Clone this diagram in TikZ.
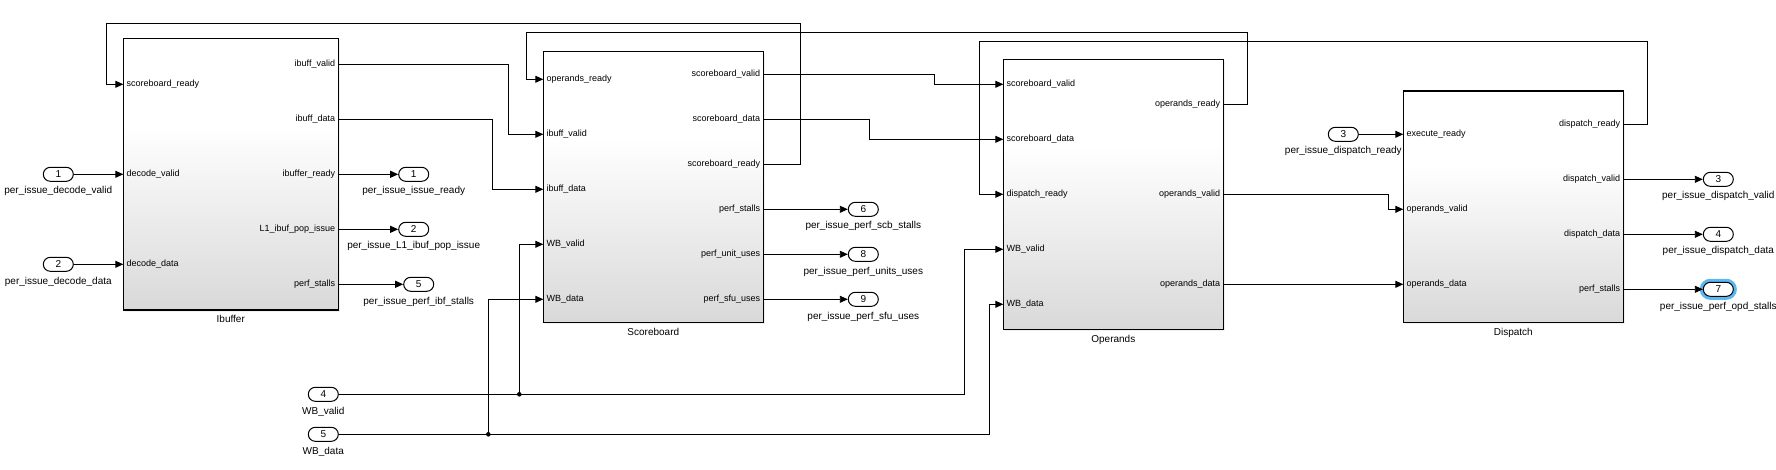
\documentclass[tikz,border=0pt]{standalone}
\usepackage{fontspec}
\setmainfont{Liberation Sans}
\usepackage{tikz}
\usetikzlibrary{positioning}
\usetikzlibrary{arrows.meta}
\usetikzlibrary{shadows}
\tikzset{>={Triangle[length=8pt,width=7pt]}}
\definecolor{selblue}{RGB}{92,182,242}
\pgfdeclareverticalshading{blockfill}{100bp}{color(0bp)=(black!15); color(25bp)=(black!15); color(59bp)=(white); color(100bp)=(white)}

\begin{document}
\begin{tikzpicture}[x=1pt,y=-1pt,
  block/.style={draw,line width=1.3pt,shade,shading=blockfill,anchor=north west,outer sep=0pt,
    drop shadow={shadow xshift=2pt,shadow yshift=-2pt,opacity=0.12}},
  pin/.style={anchor=west,inner xsep=3pt,inner ysep=0pt,font=\fontsize{9}{10}\selectfont,text height=6.5pt,text depth=2pt},
  pout/.style={pin,anchor=east},
  io/.style={draw,fill=white,line width=1pt,rounded corners=7pt,minimum width=30pt,minimum height=14pt,inner sep=0pt,font=\fontsize{10}{11}\selectfont},
  sel/.style={io,preaction={draw,selblue,line width=7pt}},
  tag/.style={inner sep=0pt,font=\fontsize{10}{11}\selectfont,text height=7pt,text depth=2pt},
  wire/.style={line width=0.9pt,->}]
\useasboundingbox (0,0) rectangle (1776,470);

% blocks
\node[block,minimum width=215pt,minimum height=271.7pt] (ibuf) at (123.3,38.3) {};
\node[tag,below=5.5pt of ibuf] {Ibuffer};
\node[block,minimum width=220pt,minimum height=270.6pt] (scb) at (543.3,51.7) {};
\node[tag,below=5.5pt of scb] {Scoreboard};
\node[block,minimum width=220pt,minimum height=270pt] (opd) at (1003.3,59.3) {};
\node[tag,below=5.5pt of opd] {Operands};
\node[block,minimum width=220pt,minimum height=231.3pt] (dsp) at (1403.3,91) {};
\node[tag,below=5.5pt of dsp] {Dispatch};

% Ibuffer ports
\node[pin] (ib-sr) at (123.3,84.3) {scoreboard\_ready};
\node[pin] (ib-dv) at (123.3,174.3) {decode\_valid};
\node[pin] (ib-dd) at (123.3,264.3) {decode\_data};
\node[pout] (ib-iv) at (338.3,64.3) {ibuff\_valid};
\node[pout] (ib-id) at (338.3,119.3) {ibuff\_data};
\node[pout] (ib-ir) at (338.3,174.3) {ibuffer\_ready};
\node[pout] (ib-pop) at (338.3,229.3) {L1\_ibuf\_pop\_issue};
\node[pout] (ib-ps) at (338.3,284.3) {perf\_stalls};

% Scoreboard ports
\node[pin] (sb-or) at (543.3,79.3) {operands\_ready};
\node[pin] (sb-iv) at (543.3,134.3) {ibuff\_valid};
\node[pin] (sb-id) at (543.3,189.3) {ibuff\_data};
\node[pin] (sb-wv) at (543.3,244.3) {WB\_valid};
\node[pin] (sb-wd) at (543.3,299.3) {WB\_data};
\node[pout] (sb-sv) at (763.3,74.7) {scoreboard\_valid};
\node[pout] (sb-sd) at (763.3,119.3) {scoreboard\_data};
\node[pout] (sb-sr) at (763.3,164.3) {scoreboard\_ready};
\node[pout] (sb-ps) at (763.3,209.3) {perf\_stalls};
\node[pout] (sb-pu) at (763.3,254.3) {perf\_unit\_uses};
\node[pout] (sb-pf) at (763.3,299.3) {perf\_sfu\_uses};

% Operands ports
\node[pin] (op-sv) at (1003.3,84.3) {scoreboard\_valid};
\node[pin] (op-sd) at (1003.3,139.3) {scoreboard\_data};
\node[pin] (op-dr) at (1003.3,194.3) {dispatch\_ready};
\node[pin] (op-wv) at (1003.3,249.3) {WB\_valid};
\node[pin] (op-wd) at (1003.3,304.3) {WB\_data};
\node[pout] (op-or) at (1223.3,104.3) {operands\_ready};
\node[pout] (op-ov) at (1223.3,194.3) {operands\_valid};
\node[pout] (op-od) at (1223.3,284.3) {operands\_data};

% Dispatch ports
\node[pin] (dp-er) at (1403.3,134.3) {execute\_ready};
\node[pin] (dp-ov) at (1403.3,209.3) {operands\_valid};
\node[pin] (dp-od) at (1403.3,284.3) {operands\_data};
\node[pout] (dp-dr) at (1623.3,124.3) {dispatch\_ready};
\node[pout] (dp-dv) at (1623.3,179.3) {dispatch\_valid};
\node[pout] (dp-dd) at (1623.3,234.3) {dispatch\_data};
\node[pout] (dp-ps) at (1623.3,289.3) {perf\_stalls};

% inports
\node[io] (in1) at (58.3,174.3) {1};
\node[tag,below=5pt of in1] {per\_issue\_decode\_valid};
\node[io] (in2) at (58.3,264.3) {2};
\node[tag,below=5pt of in2] {per\_issue\_decode\_data};
\node[io] (in3) at (1343.3,134.3) {3};
\node[tag,below=5pt of in3] {per\_issue\_dispatch\_ready};
\node[io] (in4) at (323.3,394.3) {4};
\node[tag,below=5pt of in4] {WB\_valid};
\node[io] (in5) at (323.3,434.3) {5};
\node[tag,below=5pt of in5] {WB\_data};

% outports
\node[io] (out1) at (413.7,174.3) {1};
\node[tag,below=5pt of out1] {per\_issue\_issue\_ready};
\node[io] (out2) at (413.7,229.3) {2};
\node[tag,below=5pt of out2] {per\_issue\_L1\_ibuf\_pop\_issue};
\node[io] (out5) at (418.7,284.3) {5};
\node[tag,below=5pt of out5] {per\_issue\_perf\_ibf\_stalls};
\node[io] (out6) at (863.3,209.3) {6};
\node[tag,below=5pt of out6] {per\_issue\_perf\_scb\_stalls};
\node[io] (out8) at (863.3,254.3) {8};
\node[tag,below=5pt of out8] {per\_issue\_perf\_units\_uses};
\node[io] (out9) at (863.3,299.3) {9};
\node[tag,below=5pt of out9] {per\_issue\_perf\_sfu\_uses};
\node[io] (out3) at (1718.3,179.3) {3};
\node[tag,below=5pt of out3] {per\_issue\_dispatch\_valid};
\node[io] (out4) at (1718.3,234.3) {4};
\node[tag,below=5pt of out4] {per\_issue\_dispatch\_data};
\node[sel] (out7) at (1718.3,289.3) {7};
\node[tag,below=5pt of out7] {per\_issue\_perf\_opd\_stalls};

% straight wires
\draw[wire] (in1) -- (ib-dv.west);
\draw[wire] (in2) -- (ib-dd.west);
\draw[wire] (ib-ir.east) -- (out1);
\draw[wire] (ib-pop.east) -- (out2);
\draw[wire] (ib-ps.east) -- (out5);
\draw[wire] (sb-ps.east) -- (out6);
\draw[wire] (sb-pu.east) -- (out8);
\draw[wire] (sb-pf.east) -- (out9);
\draw[wire] (op-od.east) -- (dp-od.west);
\draw[wire] (in3) -- (dp-er.west);
\draw[wire] (dp-dv.east) -- (out3);
\draw[wire] (dp-dd.east) -- (out4);
\draw[wire] (dp-ps.east) -- (out7);

% forward wires
\draw[wire] (ib-iv.east) -| (508.3,134.3) -- (sb-iv.west);
\draw[wire] (ib-id.east) -| (492.3,189.3) -- (sb-id.west);
\draw[wire] (sb-sv.east) -| (934,84.3) -- (op-sv.west);
\draw[wire] (sb-sd.east) -| (869,139.3) -- (op-sd.west);
\draw[wire] (op-ov.east) -| (1388.3,209.3) -- (dp-ov.west);

% feedback wires
\draw[wire] (sb-sr.east) -| (800,23.3) -| (106.7,84.3) -- (ib-sr.west);
\draw[wire] (op-or.east) -| (1247.3,32.3) -| (526.7,79.3) -- (sb-or.west);
\draw[wire] (dp-dr.east) -| (1647.7,41.3) -| (979.3,194.3) -- (op-dr.west);

% write back
\coordinate (jv) at (519.3,394.3);
\coordinate (jd) at (488.3,434.3);
\draw[wire] (in4.east) -| (964.3,249.3) -- (op-wv.west);
\draw[wire] (in5.east) -| (989,304.3) -- (op-wd.west);
\draw[wire] (jv) |- (sb-wv.west);
\draw[wire] (jd) |- (sb-wd.west);
\fill (jv) circle (2.3);
\fill (jd) circle (2.3);
\end{tikzpicture}
\end{document}
